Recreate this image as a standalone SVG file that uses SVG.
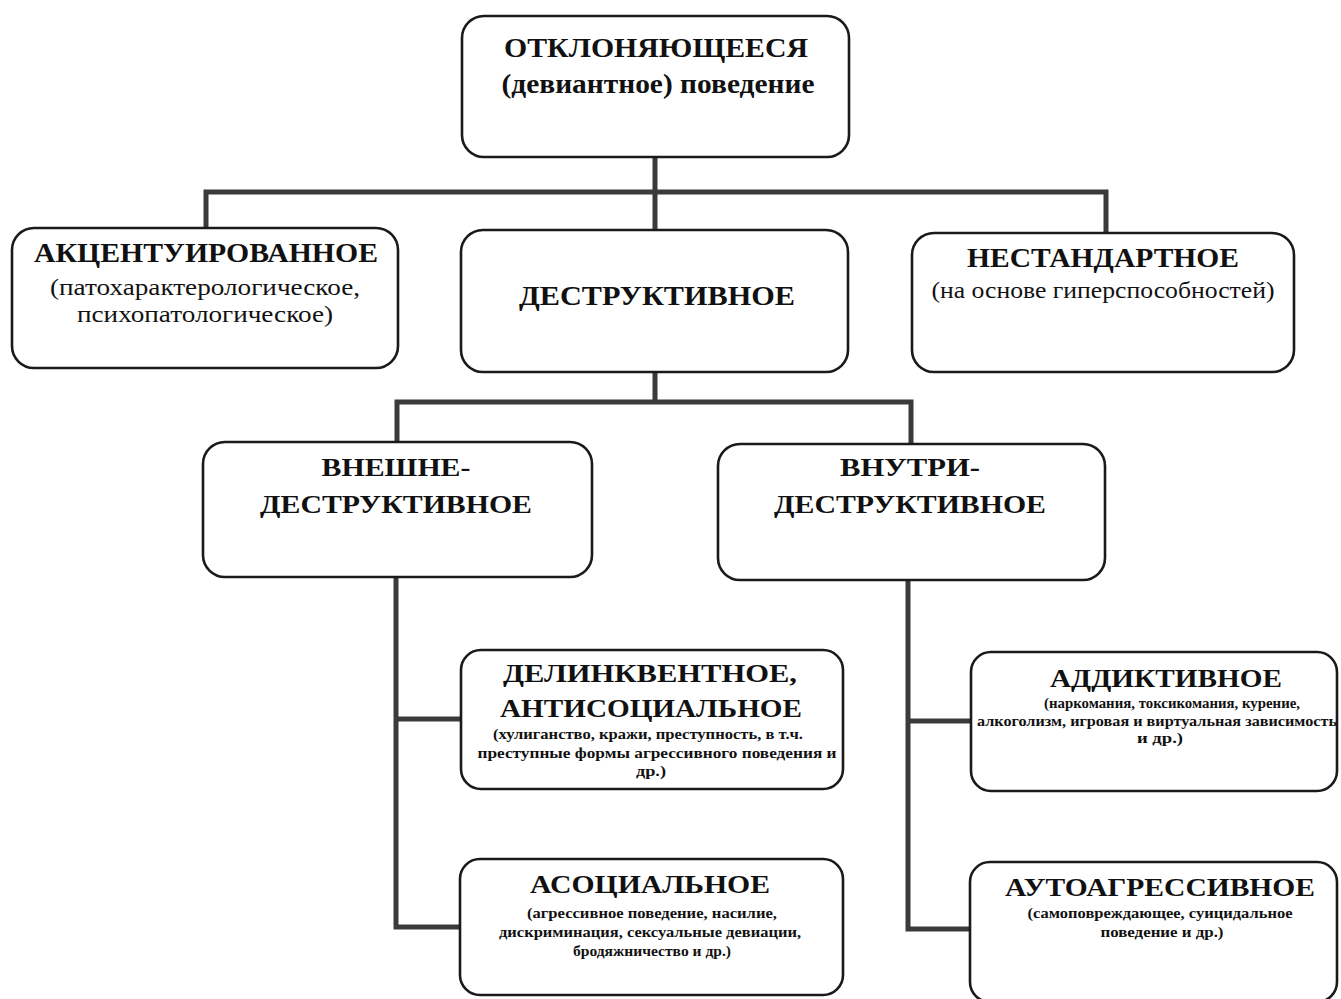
<svg xmlns="http://www.w3.org/2000/svg" width="1341" height="999" viewBox="0 0 1341 999">
<style>
.bg{fill:#ffffff}
.box{fill:#ffffff;stroke:#1a1a1a;stroke-width:2.6}
.conn{fill:none;stroke:#3a3a3a;stroke-width:5;stroke-linejoin:miter;stroke-linecap:square}
text{font-family:"Liberation Serif","Times New Roman",serif;text-anchor:middle;fill:#111}
.h{font-weight:bold;font-size:28px}
.hm{font-weight:bold;font-size:26px}
.hb{font-weight:bold;font-size:25px}
.s{font-weight:normal;font-size:24px}
.sb{font-weight:bold;font-size:15px}
</style>
<rect class="bg" x="0" y="0" width="1341" height="999"/>
<g id="connectors">
  <path class="conn" d="M655,157 V192 M206,232 V192 H1106 V234 M655,192 V231"/>
  <path class="conn" d="M655,372 V402 M397,442 V402 H911 V444"/>
  <path class="conn" d="M396,577 V927 H460 M396,719 H461"/>
  <path class="conn" d="M908,580 V929 H970 M908,721 H971"/>
</g>
<g id="node-root">
  <rect class="box" x="462" y="16" width="387" height="141" rx="22"/>
  <text class="h" x="656" y="57" textLength="304" lengthAdjust="spacingAndGlyphs">ОТКЛОНЯЮЩЕЕСЯ</text>
  <text class="h" x="658" y="93" textLength="313" lengthAdjust="spacingAndGlyphs">(девиантное) поведение</text>
</g>
<g id="node-accent">
  <rect class="box" x="12" y="228" width="386" height="140" rx="22"/>
  <text class="h" x="206" y="262" textLength="344" lengthAdjust="spacingAndGlyphs">АКЦЕНТУИРОВАННОЕ</text>
  <text class="s" x="205" y="295" textLength="310" lengthAdjust="spacingAndGlyphs">(патохарактерологическое,</text>
  <text class="s" x="205" y="322" textLength="256" lengthAdjust="spacingAndGlyphs">психопатологическое)</text>
</g>
<g id="node-destr">
  <rect class="box" x="461" y="230" width="387" height="142" rx="22"/>
  <text class="h" x="657" y="305" textLength="276" lengthAdjust="spacingAndGlyphs">ДЕСТРУКТИВНОЕ</text>
</g>
<g id="node-nonstd">
  <rect class="box" x="912" y="233" width="382" height="139" rx="22"/>
  <text class="h" x="1103" y="267" textLength="272" lengthAdjust="spacingAndGlyphs">НЕСТАНДАРТНОЕ</text>
  <text class="s" x="1103" y="298" textLength="343" lengthAdjust="spacingAndGlyphs">(на основе  гиперспособностей)</text>
</g>
<g id="node-ext">
  <rect class="box" x="203" y="442" width="389" height="135" rx="22"/>
  <text class="hm" x="396" y="476" textLength="149" lengthAdjust="spacingAndGlyphs">ВНЕШНЕ-</text>
  <text class="hm" x="396" y="513" textLength="272" lengthAdjust="spacingAndGlyphs">ДЕСТРУКТИВНОЕ</text>
</g>
<g id="node-int">
  <rect class="box" x="718" y="444" width="387" height="136" rx="22"/>
  <text class="hm" x="910" y="476" textLength="140" lengthAdjust="spacingAndGlyphs">ВНУТРИ-</text>
  <text class="hm" x="910" y="513" textLength="272" lengthAdjust="spacingAndGlyphs">ДЕСТРУКТИВНОЕ</text>
</g>
<g id="node-delinq">
  <rect class="box" x="461" y="650" width="382" height="139" rx="20"/>
  <text class="hb" x="650" y="682" textLength="294" lengthAdjust="spacingAndGlyphs">ДЕЛИНКВЕНТНОЕ,</text>
  <text class="hb" x="651" y="717" textLength="302" lengthAdjust="spacingAndGlyphs">АНТИСОЦИАЛЬНОЕ</text>
  <text class="sb" x="648" y="739" textLength="310" lengthAdjust="spacingAndGlyphs">(хулиганство, кражи, преступность, в т.ч.</text>
  <text class="sb" x="657" y="758" textLength="359" lengthAdjust="spacingAndGlyphs">преступные формы агрессивного поведения  и</text>
  <text class="sb" x="651" y="776" textLength="30" lengthAdjust="spacingAndGlyphs">др.)</text>
</g>
<g id="node-addict">
  <rect class="box" x="971" y="652" width="366" height="139" rx="20"/>
  <text class="hb" x="1166" y="687" textLength="232" lengthAdjust="spacingAndGlyphs">АДДИКТИВНОЕ</text>
  <text class="sb" x="1172" y="708" textLength="256" lengthAdjust="spacingAndGlyphs">(наркомания, токсикомания, курение,</text>
  <text class="sb" x="1157" y="726" textLength="360" lengthAdjust="spacingAndGlyphs">алкоголизм, игровая и виртуальная зависимость</text>
  <text class="sb" x="1160" y="743" textLength="46" lengthAdjust="spacingAndGlyphs">и др.)</text>
</g>
<g id="node-asocial">
  <rect class="box" x="460" y="859" width="383" height="136" rx="20"/>
  <text class="hb" x="650" y="893" textLength="240" lengthAdjust="spacingAndGlyphs">АСОЦИАЛЬНОЕ</text>
  <text class="sb" x="652" y="918" textLength="250" lengthAdjust="spacingAndGlyphs">(агрессивное поведение, насилие,</text>
  <text class="sb" x="650" y="937" textLength="302" lengthAdjust="spacingAndGlyphs">дискриминация, сексуальные девиации,</text>
  <text class="sb" x="652" y="956" textLength="158" lengthAdjust="spacingAndGlyphs">бродяжничество и др.)</text>
</g>
<g id="node-autoagr">
  <rect class="box" x="970" y="862" width="367" height="140" rx="20"/>
  <text class="hb" x="1160" y="896" textLength="310" lengthAdjust="spacingAndGlyphs">АУТОАГРЕССИВНОЕ</text>
  <text class="sb" x="1160" y="918" textLength="265" lengthAdjust="spacingAndGlyphs">(самоповреждающее, суицидальное</text>
  <text class="sb" x="1162" y="937" textLength="123" lengthAdjust="spacingAndGlyphs">поведение и др.)</text>
</g>
</svg>
